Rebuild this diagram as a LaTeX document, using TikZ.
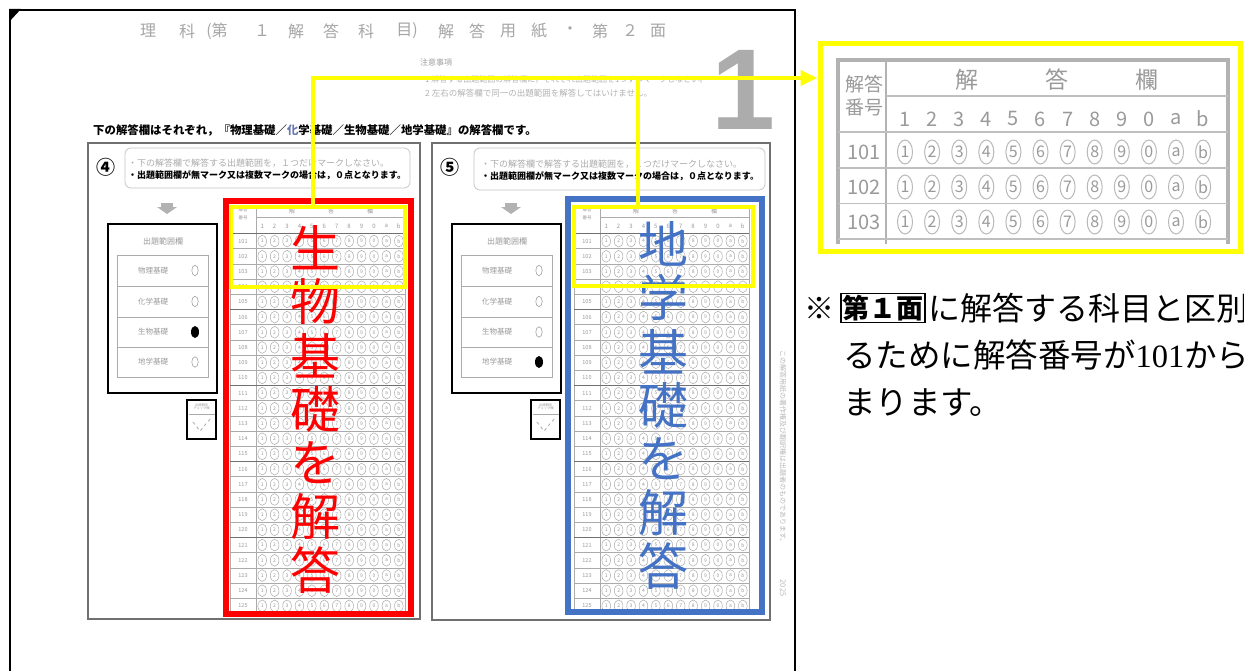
\documentclass[tikz,border=0pt]{standalone}
\usepackage{fontspec}
\setmainfont{Noto Sans CJK JP}
\newfontfamily\lsans{Liberation Sans}
\newfontfamily\lserif{Liberation Serif}
\usetikzlibrary{arrows.meta}
\definecolor{yel}{HTML}{FFFF00}
\definecolor{bl}{HTML}{4472C4}
\definecolor{gtxt}{HTML}{9A9A9A}
\definecolor{gln}{HTML}{ABABAB}
\definecolor{gdark}{HTML}{707070}
\newcommand\myfs[1]{\fontsize{#1}{#1}\selectfont}
\tikzset{
  gsmall/.style={text=gtxt,inner sep=0pt},
  yline/.style={draw=yel,line width=4pt},
  hilite/.style={line width=6.5pt,inner sep=0pt,fill=none},
}
% small answer grid (panel 4 coordinates)
\newcommand\smgrid{%
  \draw[gln,line width=.8pt] (230,205) rectangle (405,613.5);
  \draw[gln,line width=.8pt] (256,205) -- (256,613.5);
  \draw[gln,line width=.6pt] (256,217) -- (405,217);
  \foreach \k in {1,...,24}{\draw[gln,line width=.5pt] (230,{233.5+15.2*\k}) -- (405,{233.5+15.2*\k});}
  \foreach \k in {0,5,10,15,20}{\draw[gdark,line width=.8pt] (230,{233.5+15.2*\k}) -- (405,{233.5+15.2*\k});}
  \node[gsmall,font=\myfs{4.5}] at (243,210) {解答};
  \node[gsmall,font=\myfs{4.5}] at (243,218) {番号};
  \node[gsmall,font=\myfs{6}] at (292,211) {解};
  \node[gsmall,font=\myfs{6}] at (331,211) {答};
  \node[gsmall,font=\myfs{6}] at (370,211) {欄};
  \foreach \c/\t in {1/1,2/2,3/3,4/4,5/5,6/6,7/7,8/8,9/9,10/0,11/a,12/b}{
    \node[gsmall,font=\myfs{6}] at ({256+12.42*(\c-0.5)},226) {\t};}
  \foreach \r in {1,...,25}{
    \pgfmathtruncatemacro\num{100+\r}
    \pgfmathsetmacro\yc{233.5+15.2*(\r-0.5)}
    \node[gsmall,font=\myfs{5.5}] at (243,\yc) {\num};
    \foreach \c/\t in {1/1,2/2,3/3,4/4,5/5,6/6,7/7,8/8,9/9,10/0,11/a,12/b}{
      \draw[gln,line width=.5pt] ({256+12.42*(\c-0.5)},\yc) ellipse [x radius=4.3pt,y radius=5.9pt];
      \node[gsmall,font=\myfs{5}] at ({256+12.42*(\c-0.5)},\yc) {\t};}
  }
}
% panel body (panel 4 coordinates); #1 circled number, #2 marked row
\newcommand\panelbody[2]{%
  \node[font=\bfseries\myfs{19},inner sep=0pt] at (106,167) {#1};
  \fill[gray!60] (161,203) rectangle (173,207.5);
  \fill[gray!60] (157,207) -- (177,207) -- (167,214) -- cycle;
  \draw[line width=2.5pt] (108,224) rectangle (217,393);
  \node[gsmall,font=\myfs{8}] at (163,241) {出題範囲欄};
  \draw[gln,line width=.8pt] (117,255) rectangle (208,377);
  \foreach \y in {286,317,347}{\draw[gln,line width=.8pt] (117,\y) -- (208,\y);}
  \foreach \i/\s/\y in {1/物理基礎/270.5,2/化学基礎/301.5,3/生物基礎/332,4/地学基礎/362}{
    \node[gsmall,font=\myfs{7.5}] at (153,\y) {\s};
    \ifnum\i=#2\relax
      \fill[black] (195,\y) ellipse [x radius=4pt,y radius=6pt];
    \else
      \draw[gln,line width=.7pt] (195,\y) ellipse [x radius=3.2pt,y radius=5.2pt];
    \fi}
  \draw[line width=2.5pt] (187,400) rectangle (216,439);
  \draw[gln,line width=.5pt] (188.5,414) -- (214.5,414);
  \node[gsmall,font=\myfs{3.2},align=center] at (201.5,407) {出題範囲\\チェック欄};
  \draw[gln,line width=.8pt,dashed] (193,422) -- (200,431) -- (211,418);
  \smgrid
}
\begin{document}
\begin{tikzpicture}[x=1pt,y=-1pt]
\useasboundingbox (0,0) rectangle (1244,671);
\fill[white] (0,0) rectangle (1244,671);
\clip (0,0) rectangle (1244,671);

% page
\draw[line width=2pt] (10,10) rectangle (795,700);
\fill (9,9) -- (21,9) -- (9,22) -- cycle;

% title
\foreach \x/\t in {148/理,187/科,217/(第,262/１,296/解,331/答,366/科,407/目),446/解,477/答,508/用,539/紙,570/・,600/第,630/２,658/面}{
  \node[text=gray!70,font=\myfs{16},inner sep=0pt] at (\x,31) {\t};}

\node[text=gray!75,font=\myfs{8},anchor=west,inner sep=0pt] (chui) at (420,62) {注意事項};
\node[text=gray!60,font=\myfs{8},anchor=west,inner sep=0pt] at (425,80) {1 解答する出題範囲の解答欄に，それぞれ出題範囲を1つずつマークしなさい。};
\node[text=gray!60,font=\myfs{8.5},anchor=west,inner sep=0pt] at (425,93) {2 左右の解答欄で同一の出題範囲を解答してはいけません。};
\node[text=gray!65,font=\lsans\bfseries\myfs{115},anchor=base,inner sep=0pt] (one) at (743,130) {1};

\node[font=\bfseries\myfs{11.4},anchor=west,inner sep=0pt] (intro) at (93,130) {下の解答欄はそれぞれ，『物理基礎／{\color[HTML]{6A78B0}化}学基礎／生物基礎／地学基礎』の解答欄です。};

% panels
\draw[gdark,line width=1.4pt] (88,143) rectangle (420,619);
\draw[gdark,line width=1.4pt] (432,143) rectangle (770,620);
\draw[gray!45,line width=.8pt,rounded corners=6pt] (125,148) rectangle (410,188);
\draw[gray!45,line width=.8pt,rounded corners=6pt] (474,148) rectangle (765,190);
\node[text=gray!65,font=\myfs{9},anchor=west,inner sep=0pt] at (128,163) {・下の解答欄で解答する出題範囲を，１つだけマークしなさい。};
\node[font=\bfseries\myfs{9},anchor=west,inner sep=0pt] at (128,175) {・出題範囲欄が無マーク又は複数マークの場合は，０点となります。};
\node[text=gray!65,font=\myfs{9},anchor=west,inner sep=0pt] at (481,164) {・下の解答欄で解答する出題範囲を，１つだけマークしなさい。};
\node[font=\bfseries\myfs{9},anchor=west,inner sep=0pt] at (481,176) {・出題範囲欄が無マーク又は複数マークの場合は，０点となります。};

\panelbody{④}{3}
\begin{scope}[xshift=344pt]
\panelbody{⑤}{4}
\end{scope}

\node[text=gray!55,font=\myfs{7},rotate=-90,inner sep=0pt] at (783,448) {この解答用紙の著作権及び翻訳権は出題者のものであります。};
\node[text=gray!55,font=\myfs{7.5},rotate=-90,inner sep=0pt] at (783,588) {2025};

% highlight boxes
\node[hilite,draw=red,minimum width=185pt,minimum height=413pt] (rbox) at (318.5,407.5) {};
\node[hilite,draw=bl,minimum width=194pt,minimum height=413pt] (bbox) at (665,405.5) {};
\foreach \i/\t in {0/生,1/物,2/基,3/礎,4/を,5/解,6/答}{
  \node[text=red,font=\myfs{50},inner sep=0pt] at (315,{248+53.7*\i}) {\t};
  }
\foreach \i/\t in {0/地,1/学,2/基,3/礎,4/を,5/解,6/答}{
  \node[text=bl,font=\myfs{50},inner sep=0pt] at (663,{244+53.7*\i}) {\t};
  }

% enlarged grid
\draw[gray!60,line width=4pt] (838,244) -- (838,60) -- (1228,60) -- (1228,244);
\draw[gray!60,line width=1.6pt] (886,60) -- (886,244);
\draw[gray!50,line width=1.2pt] (886,96) -- (1228,96);
\foreach \y in {132,168,203.5,239}{\draw[gray!50,line width=1.2pt] (838,\y) -- (1228,\y);}
\node[text=gtxt,font=\myfs{19},inner sep=0pt] at (864,84) {解答};
\node[text=gtxt,font=\myfs{19},inner sep=0pt] at (864,107) {番号};
\node[text=gtxt,font=\myfs{23},inner sep=0pt] at (967,80) {解};
\node[text=gtxt,font=\myfs{23},inner sep=0pt] at (1057,80) {答};
\node[text=gtxt,font=\myfs{23},inner sep=0pt] at (1147,80) {欄};
\foreach \c/\t in {1/1,2/2,3/3,4/4,5/5,6/6,7/7,8/8,9/9,10/0,11/a,12/b}{
  \pgfmathsetmacro\xx{905+27.1*(\c-1)}
  \node[text=gtxt,font=\myfs{20},inner sep=0pt] at (\xx,119) {\t};
  \foreach \y in {152,187,222}{
    \draw[gray!55,line width=1pt] (\xx,\y) ellipse [x radius=7.5pt,y radius=12pt];
    \node[text=gtxt,font=\myfs{16},inner sep=0pt] at (\xx,\y) {\t};}
}
\foreach \n/\y in {101/152,102/187,103/222}{
  \node[text=gtxt,font=\myfs{20},inner sep=0pt] at (864,\y) {\n};}
\node[draw=yel,line width=5pt,minimum width=420pt,minimum height=207pt,inner sep=0pt] (bigy) at (1030,147.5) {};

% yellow boxes and connectors
\node[draw=yel,line width=3.5pt,minimum width=174pt,minimum height=80pt,inner sep=0pt] (ybox4) at (318,247) {};
\node[draw=yel,line width=3.5pt,minimum width=179pt,minimum height=79pt,inner sep=0pt] (ybox5) at (663.5,246.5) {};
\coordinate (v4) at (313,78);
\coordinate (v5) at (638,78);
\draw[yline,-{Triangle[length=17pt,width=15pt]}] (ybox4.north -| v4) |- (bigy.west |- v4);
\draw[yline] (ybox5.north -| v5) -- (v5);

% note text
\node[font=\myfs{30},anchor=west,inner sep=0pt] (kome) at (804,308) {※};
\node[draw,line width=1.8pt,inner sep=1.5pt,font=\bfseries\myfs{27},anchor=west] (men1) at (840,308) {第１面};
\node[font=\myfs{32},anchor=west,inner sep=0pt] (l1) at ([xshift=2pt]men1.east) {に解答する科目と区別};
\node[font=\myfs{32.5},anchor=west,inner sep=0pt] (l2) at (843,355) {るために解答番号が{\lserif 101}から};
\node[font=\myfs{32.5},anchor=west,inner sep=0pt] (l3) at (843,403) {まります。};
\end{tikzpicture}
\end{document}
